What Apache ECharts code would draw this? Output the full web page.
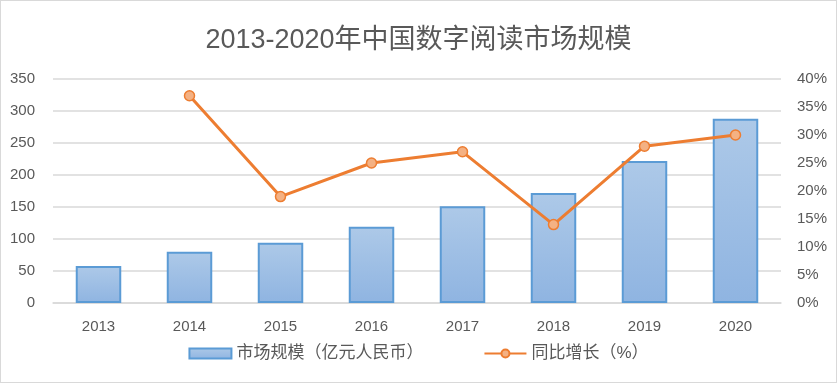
<!DOCTYPE html>
<html><head><meta charset="utf-8">
<script src="https://cdn.jsdelivr.net/npm/echarts@6/dist/echarts.min.js"></script>
<style>html,body{margin:0;padding:0;background:#fff}#c{width:835px;height:381px;border:1px solid #d9d9d9}</style>
</head><body><div id="c"></div>
<script>
const categories = ['2013','2014','2015','2016','2017','2018','2019','2020'];
const marketSize = [58, 80, 94, 119, 151, 172, 222, 288];
const growth = [null, 37, 19, 25, 27, 14, 28, 30];
const leftTicks = [0, 350, 50];
const rightTicks = [0, 40, 5];
const FONT = "'Liberation Sans','Noto Sans CJK SC',sans-serif";
const chart = echarts.init(document.getElementById('c'));
chart.setOption({
  animation: false,
  textStyle: {fontFamily: FONT},
  title: {text: '2013-2020年中国数字阅读市场规模', left: 'center', top: 21,
    textStyle: {fontSize: 27, fontWeight: 'normal', color: '#595959', fontFamily: FONT}},
  legend: {bottom: 15, left: 'center', itemGap: 60, itemWidth: 42, itemHeight: 10,
    textStyle: {fontSize: 17, color: '#595959', fontFamily: FONT},
    data: [{name: '市场规模（亿元人民币）', icon: 'rect'}, {name: '同比增长（%）'}]},
  grid: {left: 52, right: 55, top: 78, bottom: 79},
  xAxis: {type: 'category', data: categories,
    axisLine: {lineStyle: {color: '#d9d9d9', width: 1.5}}, axisTick: {show: false},
    axisLabel: {fontSize: 15, color: '#595959', margin: 16}},
  yAxis: [
    {type: 'value', min: leftTicks[0], max: leftTicks[1], interval: leftTicks[2],
      axisLabel: {fontSize: 15, color: '#595959', margin: 18},
      splitLine: {lineStyle: {color: '#d9d9d9', width: 1.5}}},
    {type: 'value', min: rightTicks[0], max: rightTicks[1], interval: rightTicks[2],
      axisLabel: {fontSize: 15, color: '#595959', formatter: '{value}%', margin: 16},
      splitLine: {show: false}}
  ],
  series: [
    {name: '市场规模（亿元人民币）', type: 'bar', data: marketSize, barWidth: '50%',
      itemStyle: {color: new echarts.graphic.LinearGradient(0,0,0,1,[{offset:0,color:'#adc9e8'},{offset:1,color:'#8fb4e1'}]),
        borderColor: '#5b9bd5', borderWidth: 2}},
    {name: '同比增长（%）', type: 'line', yAxisIndex: 1, data: growth,
      symbol: 'circle', symbolSize: 10,
      lineStyle: {color: '#ed7d31', width: 3},
      itemStyle: {color: '#f4b183', borderColor: '#ed7d31', borderWidth: 1.5}}
  ]
});
</script></body></html>
